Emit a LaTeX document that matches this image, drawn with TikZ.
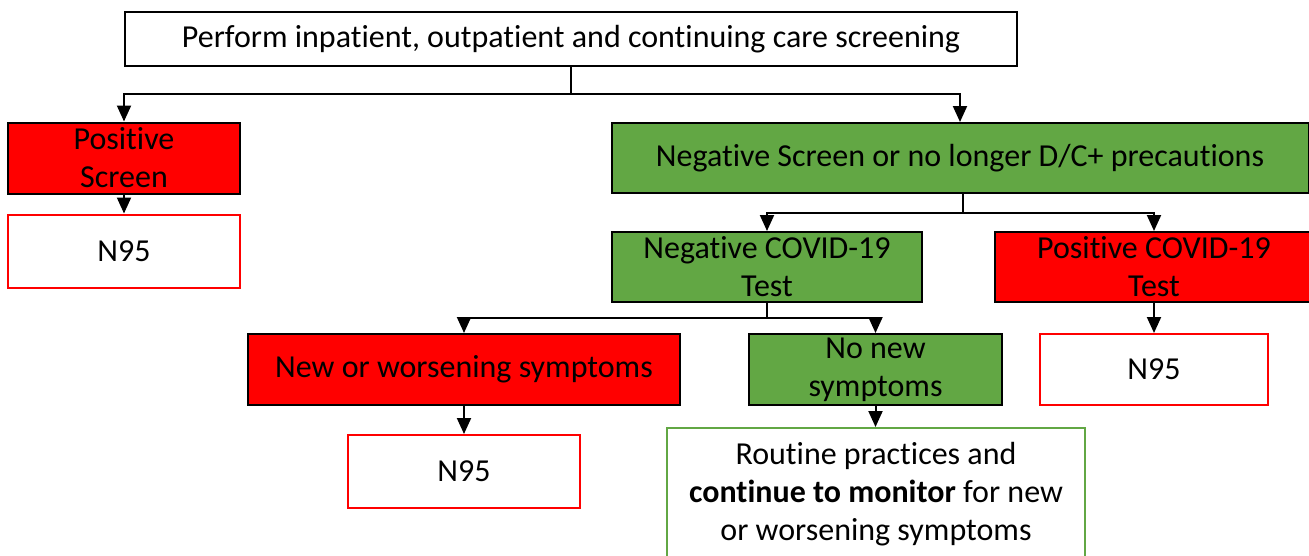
\documentclass[tikz,border=0pt]{standalone}
\usepackage{fontspec}
\setmainfont[Ligatures=NoCommon]{Carlito}
\usetikzlibrary{arrows.meta}
\definecolor{scrgreen}{HTML}{62A744}
\begin{document}
\begin{tikzpicture}[x=1pt,y=-1pt,
  font=\fontsize{32}{38}\selectfont,
  box/.style={draw=black,line width=2pt,align=center,inner sep=0pt},
  redbox/.style={box,fill=red},
  greenbox/.style={box,fill=scrgreen},
  outbox/.style={box,draw=red,fill=white},
  flow/.style={line width=2pt,-{Triangle[width=14pt,length=16pt]}}]
  \useasboundingbox (0,0) rectangle (1309,555);
  % screening
  \node[box,minimum width=892,minimum height=54] (screen) at (571,39)
    {Perform inpatient, outpatient and continuing care screening};
  \node[redbox,minimum width=232,minimum height=71] (posscr) at (124,158)
    {Positive\\Screen};
  \node[outbox,minimum width=232,minimum height=73] (n95a) at (124,251) {N95};
  \node[greenbox,minimum width=697,minimum height=70] (negscr) at (960,158)
    {Negative Screen or no longer D/C+ precautions};
  % tests
  \node[greenbox,minimum width=310,minimum height=70] (negtest) at (767,267)
    {Negative COVID-19\\Test};
  \node[redbox,minimum width=318,minimum height=70] (postest) at (1154,267)
    {Positive COVID-19\\Test};
  \node[outbox,minimum width=228,minimum height=71] (n95b) at (1154,369.5) {N95};
  % symptoms
  \node[redbox,minimum width=432,minimum height=71] (worse) at (464,369.5)
    {New or worsening symptoms};
  \node[greenbox,minimum width=253,minimum height=71] (nonew) at (875.5,369.5)
    {No new\\symptoms};
  \node[outbox,minimum width=232,minimum height=73] (n95c) at (464,471.5) {N95};
  \node[box,draw=scrgreen,fill=white,minimum width=418,minimum height=132]
    (routine) at (876,494)
    {Routine practices and\\\textbf{continue to monitor} for new\\or worsening symptoms};
  % connectors
  \coordinate (split1) at (571,94);
  \coordinate (split2) at (963,213);
  \coordinate (split3) at (767,318);
  \draw[line width=2pt] (screen.south) -- (split1);
  \draw[flow] (split1) -| (posscr.north);
  \draw[flow] (split1) -| (negscr.north);
  \draw[flow] (posscr) -- (n95a);
  \draw[line width=2pt] (negscr.south -| split2) -- (split2);
  \draw[flow] (split2) -| (negtest.north);
  \draw[flow] (split2) -| (postest.north);
  \draw[flow] (postest) -- (n95b);
  \draw[line width=2pt] (negtest.south) -- (split3);
  \draw[flow] (split3) -| (worse.north);
  \draw[flow] (split3) -| (nonew.north);
  \draw[flow] (worse) -- (n95c);
  \draw[flow] (nonew) -- (nonew.south |- routine.north);
\end{tikzpicture}
\end{document}
